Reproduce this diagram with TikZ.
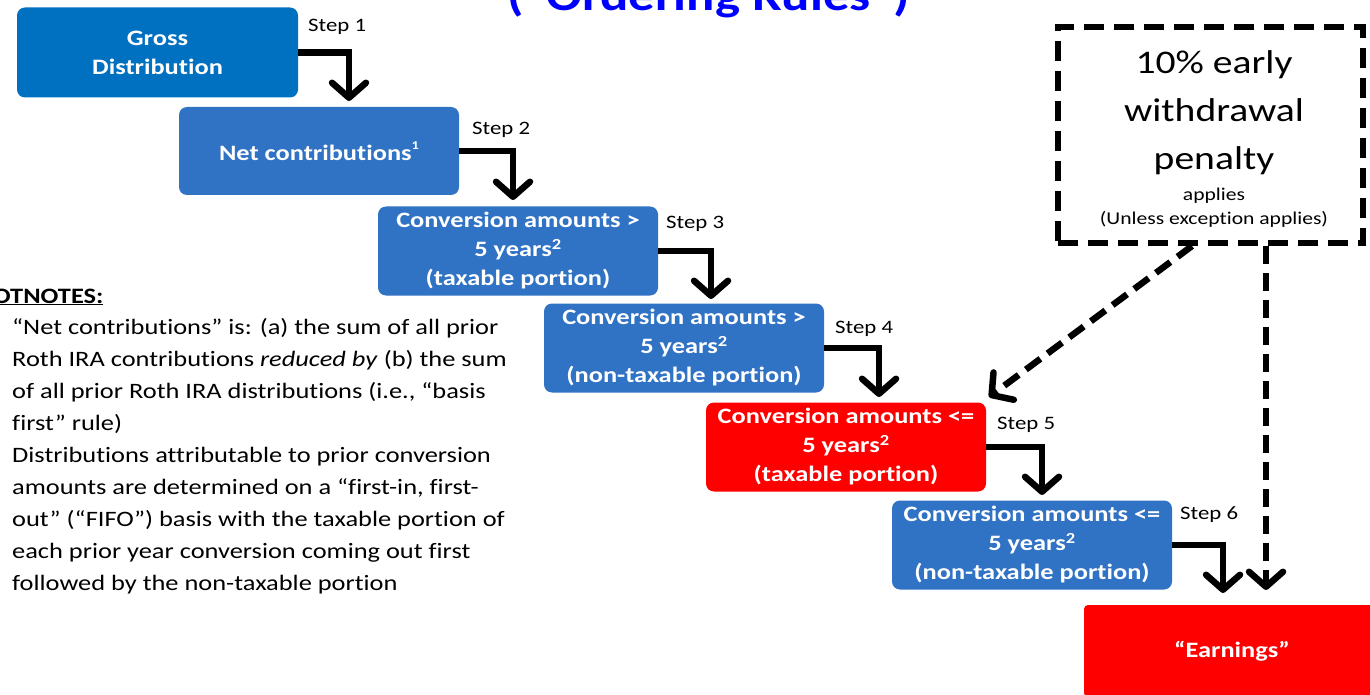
\documentclass[tikz,border=0pt]{standalone}
\usepackage{fontspec}
\setmainfont[FakeStretch=1.2, Ligatures=NoCommon]{Carlito}
\usetikzlibrary{arrows.meta}
\definecolor{boxblue}{RGB}{48,114,196}
\definecolor{darkblue}{RGB}{0,112,192}
\definecolor{pured}{RGB}{255,0,0}
\definecolor{titleblue}{RGB}{0,0,255}
\tikzset{
  stepbox/.style={rounded corners=8pt, text=white, font=\fontsize{22}{29}\selectfont\bfseries,
    align=center, minimum width=280pt, minimum height=89pt, inner sep=0pt},
  steplabel/.style={font=\fontsize{19}{22}\selectfont, anchor=base west, inner sep=0pt},
  flow/.style={line width=6.5pt, line join=miter, -{Straight Barb[length=15pt,width=34pt,round]}},
  dflow/.style={line width=6.5pt, dash pattern=on 18pt off 9pt, -{Straight Barb[length=15pt,width=34pt,round]}},
}
\begin{document}
\begin{tikzpicture}[x=1pt,y=-1pt]
\useasboundingbox (0,0) rectangle (1370,695);
% title (mostly cut off)
\node[anchor=base, text=titleblue, font=\fontsize{44}{50}\selectfont\bfseries, inner sep=0pt] (title) at (709,11) {(“Ordering Rules”)};
% boxes
\node[stepbox, fill=darkblue, minimum width=281pt, minimum height=90pt] (gross) at (157.5,52.5) {Gross\\Distribution};
\node[stepbox, fill=boxblue, minimum height=88pt] (net) at (319,151) {Net contributions\raisebox{0.5em}{\fontsize{12}{12}\selectfont 1}};
\node[stepbox, fill=boxblue] (c1) at (518,251) {Conversion amounts >\\5 years\textsuperscript{2}\\(taxable portion)};
\node[stepbox, fill=boxblue] (c2) at (684,348) {Conversion amounts >\\5 years\textsuperscript{2}\\(non-taxable portion)};
\node[stepbox, fill=pured] (c3) at (846,447) {Conversion amounts <=\\5 years\textsuperscript{2}\\(taxable portion)};
\node[stepbox, fill=boxblue] (c4) at (1032,545) {Conversion amounts <=\\5 years\textsuperscript{2}\\(non-taxable portion)};
\node[stepbox, fill=pured, rounded corners=4pt, minimum width=296pt, minimum height=92pt] (earn) at (1232,651) {“Earnings”};
% step labels
\node[steplabel] (s1) at (308,32) {Step 1};
\node[steplabel] (s2) at (472,135) {Step 2};
\node[steplabel] (s3) at (666,229) {Step 3};
\node[steplabel] (s4) at (835,333) {Step 4};
\node[steplabel] (s5) at (997,429) {Step 5};
\node[steplabel] (s6) at (1180,519) {Step 6};
% arrow end points
\coordinate (t1) at (349,101);
\coordinate (t2) at (513,200);
\coordinate (t3) at (711,299);
\coordinate (t4) at (879,397);
\coordinate (t5) at (1042,495);
\coordinate (t6) at (1223,593);
\draw[flow] (gross.east) -| (t1);
\draw[flow] (net.east) -| (t2);
\draw[flow] (c1.east) -| (t3);
\draw[flow] (c2.east) -| (t4);
\draw[flow] (c3.east) -| (t5);
\draw[flow] (c4.east) -| (t6);
% penalty box
\node[draw, line width=6.5pt, dash pattern=on 20pt off 10pt, minimum width=305pt, minimum height=216pt, inner sep=0pt] (pen) at (1210.5,135) {};
\node[font=\fontsize{33}{48}\selectfont, align=center, anchor=north, inner sep=0pt] (pent) at (1214,50) {10\% early\\withdrawal\\penalty};
\node[font=\fontsize{18}{24}\selectfont, align=center, anchor=north, inner sep=0pt] (pens) at (1214,188) {applies\\(Unless exception applies)};
\coordinate (d1s) at (1192,246);
\coordinate (d1e) at (989,397);
\coordinate (d2s) at (1266,246);
\coordinate (d2e) at (1266,590);
\draw[dflow] (d1s) -- (d1e);
\draw[dflow] (d2s) -- (d2e);
% footnotes
\node[anchor=base west, inner sep=0pt, font=\fontsize{22}{26}\selectfont\bfseries] (fnh) at (-37,303) {\underline{FOOTNOTES:}};
\node[anchor=north west, inner sep=0pt, align=left, font=\fontsize{22}{32}\selectfont] (fnb) at (12,318)
{“Net contributions” is: (a) the sum of all prior\\
Roth IRA contributions \textit{reduced by} (b) the sum\\
of all prior Roth IRA distributions (i.e., “basis\\
first” rule)\\
Distributions attributable to prior conversion\\
amounts are determined on a “first-in, first-\\
out” (“FIFO”) basis with the taxable portion of\\
each prior year conversion coming out first\\
followed by the non-taxable portion};
\end{tikzpicture}
\end{document}
